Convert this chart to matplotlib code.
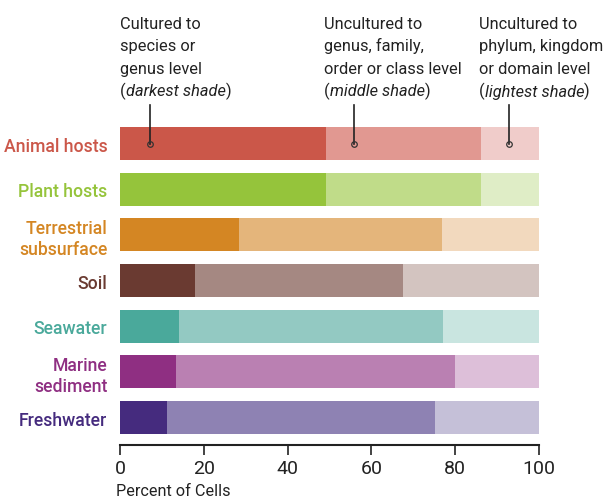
import matplotlib
matplotlib.use("Agg")
import matplotlib.pyplot as plt

FONT = "Roboto"
plt.rcParams['font.family'] = [FONT, 'DejaVu Sans']

categories = ["Animal hosts", "Plant hosts", "Terrestrial\nsubsurface", "Soil",
              "Seawater", "Marine\nsediment", "Freshwater"]
cultured = [49.2, 49.2, 28.4, 18.0, 14.1, 13.3, 11.2]
uncultured_genus = [36.9, 36.9, 48.5, 49.5, 63.0, 66.6, 63.9]
uncultured_phylum = [13.9, 13.9, 23.1, 32.5, 22.9, 20.1, 24.9]

dark = ["#CB5749", "#95C43B", "#D48623", "#6A3A31", "#4AA99B", "#8F2F82", "#452B7E"]
mid = ["#E19891", "#C0DC89", "#E4B57B", "#A58882", "#93C9C2", "#BA80B2", "#8E82B3"]
light = ["#F0CCCA", "#DFEDC6", "#F2D9BE", "#D3C4C0", "#C9E5E0", "#DDBFD9", "#C5C0D8"]
label_colors = ["#CB5749", "#95C43B", "#D48623", "#6A3A31", "#4AA99B", "#8F2F82", "#452B7E"]

ticks = [0, 20, 40, 60, 80, 100]

fig = plt.figure(figsize=(6.06, 5.02), dpi=100)
r = fig.canvas.get_renderer()


def fit_size(s, target_px, weight='normal', style='normal'):
    t = fig.text(0, 0, s, fontsize=10, fontweight=weight, style=style)
    w = t.get_window_extent(r).width
    t.remove()
    return 10 * target_px / w

ax = fig.add_axes([120/606, 1-446/502, 419/606, (446-121.7)/502])

y = list(range(len(categories)))
h = 0.72
left2 = [c for c in cultured]
left3 = [c + g for c, g in zip(cultured, uncultured_genus)]
ax.barh(y, cultured, height=h, color=dark, edgecolor='none')
ax.barh(y, uncultured_genus, left=left2, height=h, color=mid, edgecolor='none')
ax.barh(y, uncultured_phylum, left=left3, height=h, color=light, edgecolor='none')

cat_fs = min(fit_size("Animal hosts", 104, weight='medium'), 15)
ax.set_xlim(0, 100)
ax.set_ylim(6.6, -0.5)
ax.set_yticks(y)
ax.set_yticklabels(categories, fontsize=cat_fs, fontweight='medium', linespacing=1.2)
for lab, c in zip(ax.get_yticklabels(), label_colors):
    lab.set_color(c)
ax.tick_params(axis='y', length=0, pad=9)
ax.set_xticks(ticks)
ax.set_xticklabels([str(t) for t in ticks], fontsize=14)
ax.tick_params(axis='x', direction='out', length=7, width=1.2, pad=3, color='#222222', labelcolor='#222222')
for s in ['top', 'right', 'left']:
    ax.spines[s].set_visible(False)
ax.spines['bottom'].set_linewidth(1.5)
ax.spines['bottom'].set_color('#222222')

pc_fs = fit_size("Percent of Cells", 114)
fig.text(116/606, 1-499/502, "Percent of Cells", fontsize=pc_fs, color='#222222', ha='left', va='bottom')

# annotations
ann_x = [7.1, 55.8, 92.8]
ann_text_x = [0, 48.7, 85.7]
ann_plain = [
    ["Cultured to", "species or", "genus level"],
    ["Uncultured to", "genus, family,", "order or class level"],
    ["Uncultured to", "phylum, kingdom", "or domain level"],
]
ann_italic = ["darkest shade", "middle shade", "lightest shade"]
y_top_line = -0.5 - (121.7 - 106) / 45.67
for xa in ann_x:
    ax.plot([xa, xa], [y_top_line, 0], color='#222222', lw=1.2, clip_on=False, zorder=5)
    ax.plot([xa], [0], marker='o', ms=4, mfc='none', mec='#333333', mew=0.9, clip_on=False, zorder=6)

ann_fs = fit_size("phylum, kingdom", 124)
pitch = 22.5
for tx, lines, it in zip(ann_text_x, ann_plain, ann_italic):
    fx = (120 + tx * 4.19) / 606
    for i, ln in enumerate(lines):
        fig.text(fx, 1 - (29 + i * pitch) / 502, ln, fontsize=ann_fs, color='#222222', ha='left', va='baseline')
    yb = 1 - (29 + 3 * pitch) / 502
    t1 = fig.text(fx, yb, "(", fontsize=ann_fs, color='#222222', ha='left', va='baseline')
    bb = t1.get_window_extent(r)
    t2 = fig.text(bb.x1 / fig.bbox.width, yb, it, fontsize=ann_fs, style='italic', color='#222222', ha='left', va='baseline')
    bb2 = t2.get_window_extent(r)
    fig.text(bb2.x1 / fig.bbox.width, yb, ")", fontsize=ann_fs, color='#222222', ha='left', va='baseline')

fig.savefig("out.png", dpi=100)
